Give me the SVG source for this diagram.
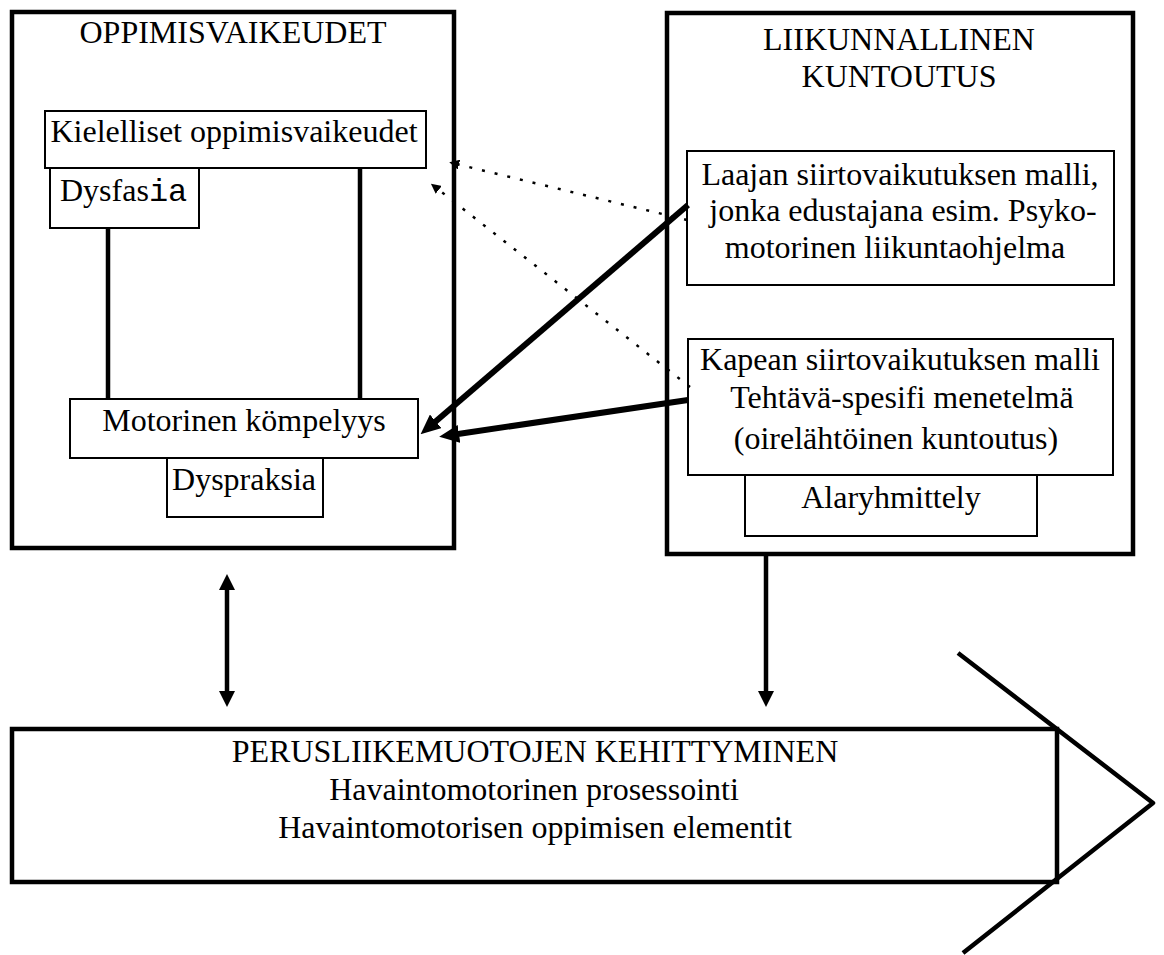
<svg xmlns="http://www.w3.org/2000/svg" width="1164" height="955" viewBox="0 0 1164 955">
<style>
text{font-family:"Liberation Serif","Times New Roman",serif;font-size:32px;fill:#000}
.c{text-anchor:middle}
.mono{font-family:"Liberation Mono","Courier New",monospace}
.outer{fill:none;stroke:#000;stroke-width:4.5}
.inner{fill:#fff;stroke:#000;stroke-width:2}
.thick{stroke:#000;stroke-width:4.5;fill:none}
.heavy{stroke:#000;stroke-width:6;fill:none}
.dot{stroke:#000;stroke-width:2.5;fill:none;stroke-dasharray:3 10}
</style>
<defs>
<marker id="ah" viewBox="0 0 16 16" refX="1" refY="8" markerWidth="16" markerHeight="16" markerUnits="userSpaceOnUse" orient="auto-start-reverse"><path d="M0,0 L16,8 L0,16 z"/></marker>
<marker id="ahb" viewBox="0 0 20 18" refX="1" refY="9" markerWidth="20" markerHeight="18" markerUnits="userSpaceOnUse" orient="auto"><path d="M0,0 L20,9 L0,18 z"/></marker>
<marker id="ahs" viewBox="0 0 10 10" refX="1" refY="5" markerWidth="10" markerHeight="10" markerUnits="userSpaceOnUse" orient="auto"><path d="M0,0 L10,5 L0,10 z"/></marker>
</defs>
<rect width="1164" height="955" fill="#fff"/>

<g id="oppimisvaikeudet">
<rect class="outer" x="12" y="12" width="442" height="536"/>
<text class="c" x="233" y="43">OPPIMISVAIKEUDET</text>
</g>

<g id="links">
<line class="thick" x1="108" y1="228" x2="108" y2="399"/>
<line class="thick" x1="360" y1="168" x2="360" y2="399"/>
</g>

<g id="kielelliset">
<rect class="inner" x="45" y="111" width="381" height="57"/>
<text class="c" x="234" y="142">Kielelliset oppimisvaikeudet</text>
</g>
<g id="dysfasia">
<rect class="inner" x="50" y="168" width="149" height="60"/>
<text x="60" y="201">Dysfas<tspan class="mono">ia</tspan></text>
</g>
<g id="motorinen">
<rect class="inner" x="70" y="399" width="348" height="59"/>
<text class="c" x="244" y="431">Motorinen kömpelyys</text>
</g>
<g id="dyspraksia">
<rect class="inner" x="167" y="458" width="156" height="59"/>
<text class="c" x="244" y="490">Dyspraksia</text>
</g>

<g id="liikunnallinen">
<rect class="outer" x="667" y="13" width="466" height="541"/>
<text class="c" x="899" y="50">LIIKUNNALLINEN</text>
<text class="c" x="899" y="87">KUNTOUTUS</text>
</g>
<g id="laajan">
<rect class="inner" x="687" y="151" width="427" height="134"/>
<text class="c" x="900" y="185">Laajan siirtovaikutuksen malli,</text>
<text class="c" x="903" y="221">jonka edustajana esim. Psyko-</text>
<text class="c" x="895" y="258">motorinen liikuntaohjelma</text>
</g>
<g id="kapean">
<rect class="inner" x="688" y="339" width="425" height="136"/>
<text class="c" x="900" y="370">Kapean siirtovaikutuksen malli</text>
<text class="c" x="902" y="408">Tehtävä-spesifi menetelmä</text>
<text class="c" x="896" y="449">(oirelähtöinen kuntoutus)</text>
</g>
<g id="alaryhmittely">
<rect class="inner" x="745" y="475" width="292" height="61"/>
<text class="c" x="891" y="508">Alaryhmittely</text>
</g>

<g id="perusliikemuotojen">
<rect class="outer" x="12" y="729" width="1045" height="153"/>
<polyline class="thick" points="958,653 1153,803 963,953" stroke-linejoin="round"/>
<text class="c" x="535" y="762">PERUSLIIKEMUOTOJEN KEHITTYMINEN</text>
<text class="c" x="534" y="800">Havaintomotorinen prosessointi</text>
<text class="c" x="535" y="838">Havaintomotorisen oppimisen elementit</text>
</g>

<g id="connectors">
<line class="dot" x1="687" y1="220" x2="458" y2="164.4" marker-end="url(#ahs)"/>
<line class="dot" x1="690" y1="387" x2="438" y2="189.2" marker-end="url(#ahs)"/>
<line class="heavy" x1="688" y1="205" x2="435" y2="422" marker-end="url(#ahb)"/>
<line class="heavy" x1="688" y1="400" x2="458" y2="434" marker-end="url(#ahb)"/>
<line class="thick" x1="227" y1="589" x2="227" y2="692" marker-start="url(#ah)" marker-end="url(#ah)"/>
<line class="thick" x1="766" y1="554" x2="766" y2="692" marker-end="url(#ah)"/>
</g>
</svg>
